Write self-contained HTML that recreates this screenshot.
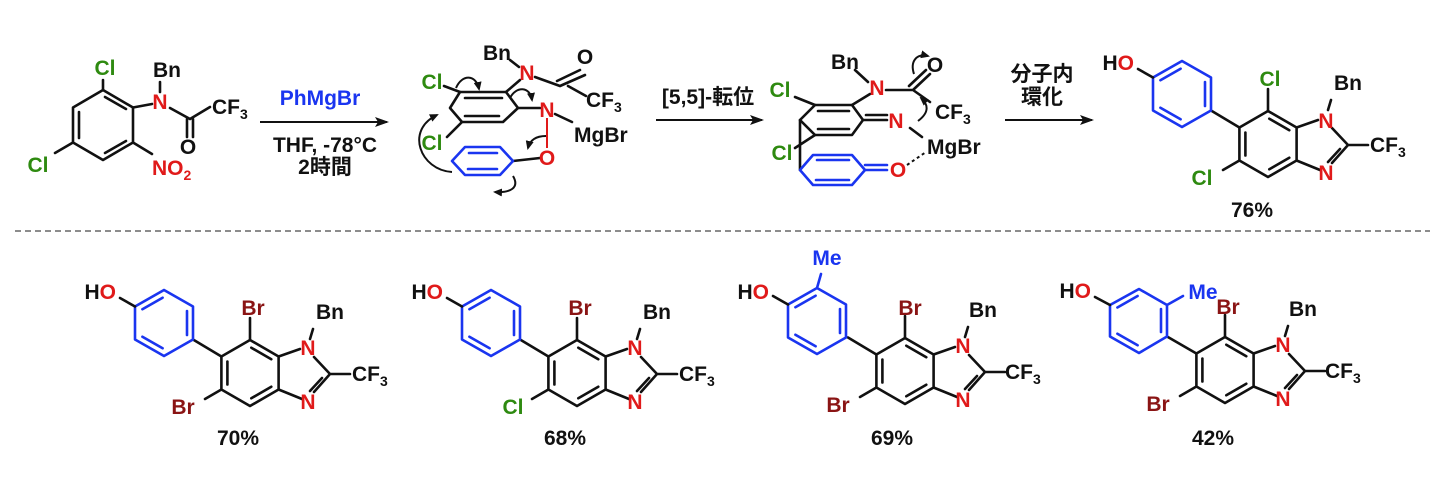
<!DOCTYPE html>
<html><head><meta charset="utf-8"><style>
html,body{margin:0;padding:0;background:#fff}
svg{display:block}
text{font-family:"Liberation Sans","Noto Sans CJK JP",sans-serif;font-weight:bold;font-size:21px}
.k{stroke:#111;stroke-width:2.6;fill:none;stroke-linecap:round;stroke-linejoin:round}
.b{stroke:#1a35f0;stroke-width:2.6;fill:none;stroke-linecap:round;stroke-linejoin:round}
.r{stroke:#e01a1a;stroke-width:2;fill:none}
.a{stroke:#111;stroke-width:2;fill:none}
.g{fill:#2e8a10}.rd{fill:#e01a1a}.dr{fill:#8a1414}.bl{fill:#1a35f0}.bk{fill:#111}
</style></head><body>
<svg width="1440" height="483" viewBox="0 0 1440 483" xmlns="http://www.w3.org/2000/svg">
<defs>
<marker id="ah" markerWidth="14" markerHeight="10" refX="12" refY="5" orient="auto" markerUnits="userSpaceOnUse"><path d="M0,0 L14,5 L0,10 L3,5 Z" fill="#111"/></marker>
<marker id="sh" markerWidth="9" markerHeight="8" refX="7" refY="4" orient="auto" markerUnits="userSpaceOnUse"><path d="M0,0 L9,4 L0,8 Z" fill="#111"/></marker>
</defs>

<!-- Molecule 1 -->
<path class="k" d="M103,90 L133,107.5 L133,142.5 L103,160 L73,142.5 L73,107.5 Z"/>
<path class="k" d="M105,97 L126,109 M79,112 L79,138 M105,153 L126,141"/>
<path class="k" d="M103,90 L103,80 M73,142.5 L55,153 M133,142.5 L152,154 M133,107.5 L152,104 M160,92 L160,82 M170,108 L190,119 M190,119 L210,107 M187,119 L187,137 M193,119 L193,137"/>
<text x="105" y="75" text-anchor="middle" class="g">Cl</text>
<text x="38" y="172" text-anchor="middle" class="g">Cl</text>
<text x="160" y="109" text-anchor="middle" class="rd">N</text>
<text x="167" y="77" text-anchor="middle" class="bk">Bn</text>
<text x="188" y="154" text-anchor="middle" class="bk">O</text>
<text x="212" y="114" class="bk">CF<tspan font-size="14" dy="5">3</tspan></text>
<text x="152" y="175" class="rd">NO<tspan font-size="14" dy="5">2</tspan></text>

<!-- Arrow 1 -->
<line class="a" x1="260" y1="122" x2="387" y2="122" marker-end="url(#ah)"/>
<text x="320" y="105" text-anchor="middle" class="bl">PhMgBr</text>
<text x="325" y="152" text-anchor="middle" class="bk">THF, -78°C</text>
<text x="325" y="174" text-anchor="middle" class="bk">2時間</text>

<!-- Intermediate 1 -->
<path class="k" d="M460,92 L506,92 L518,108 L503,122 L462,122 L450,108 Z"/>
<path class="k" d="M465,98 L502,98 M465,116 L499,116"/>
<path class="k" d="M444,86 L460,92 M506,92 L520,80 M518,108 L540,108 M535,77 L560,86 M560,86 L585,75 M557,81 L580,70 M568,86 L586,96 M510,60 L519,67 M555,114 L572,122 M447,137 L462,122"/>
<path class="r" d="M547,118 L547,148"/>
<path class="k" d="M513,161 L540,158"/>
<path class="b" d="M452,161 L465,147 L500,147 L513,161 L500,175 L465,175 Z M469,153 L497,153 M468,169 L497,169"/>
<text x="432" y="89" text-anchor="middle" class="g">Cl</text>
<text x="432" y="150" text-anchor="middle" class="g">Cl</text>
<text x="497" y="60" text-anchor="middle" class="bk">Bn</text>
<text x="527" y="80" text-anchor="middle" class="rd">N</text>
<text x="585" y="64" text-anchor="middle" class="bk">O</text>
<text x="586" y="107" class="bk">CF<tspan font-size="14" dy="5">3</tspan></text>
<text x="547" y="117" text-anchor="middle" class="rd">N</text>
<text x="574" y="142" class="bk">MgBr</text>
<text x="547" y="165" text-anchor="middle" class="rd">O</text>
<path class="a" d="M452,172 C420,170 405,130 437,115" marker-end="url(#sh)"/>
<path class="a" d="M456,88 C462,74 476,74 479,89" marker-end="url(#sh)"/>
<path class="a" d="M510,98 C516,86 530,86 532,100" marker-end="url(#sh)"/>
<path class="a" d="M546,136 C536,136 530,140 528,148" marker-end="url(#sh)"/>
<path class="a" d="M513,176 C520,188 510,193 495,192" marker-end="url(#sh)"/>

<!-- Arrow 2 -->
<line class="a" x1="656" y1="120" x2="762" y2="120" marker-end="url(#ah)"/>
<text x="708" y="104" text-anchor="middle" class="bk">[5,5]-転位</text>

<!-- Intermediate 2 -->
<path class="k" d="M815,105 L852,105 L863,120 L852,135 L815,135 L800,120 Z"/>
<path class="k" d="M818,111 L849,111 M818,129 L849,129"/>
<path class="k" d="M863,120 L887,120 M866,115 L887,115 M795,97 L815,105 M852,105 L870,94 M886,90 L913,90 M913,90 L930,74 M909,86 L926,70 M913,90 L930,102 M855,70 L868,82 M910,128 L922,137 M800,120 L800,170 M815,135 L795,148"/>
<path class="b" d="M800,170 L813,155 L852,155 L865,170 L852,185 L813,185 Z M817,160 L849,160 M816,180 L849,180"/>
<path class="b" d="M865,170 L887,170 M865,165 L887,165"/>
<path d="M907,165 L926,152" stroke="#111" stroke-width="2" stroke-dasharray="3,3"/>
<text x="780" y="97" text-anchor="middle" class="g">Cl</text>
<text x="782" y="160" text-anchor="middle" class="g">Cl</text>
<text x="845" y="69" text-anchor="middle" class="bk">Bn</text>
<text x="877" y="95" text-anchor="middle" class="rd">N</text>
<text x="935" y="72" text-anchor="middle" class="bk">O</text>
<text x="935" y="119" class="bk">CF<tspan font-size="14" dy="5">3</tspan></text>
<text x="896" y="128" text-anchor="middle" class="rd">N</text>
<text x="927" y="154" class="bk">MgBr</text>
<text x="898" y="177" text-anchor="middle" class="rd">O</text>
<path class="a" d="M918,121 C930,112 928,104 921,98" marker-end="url(#sh)"/>
<path class="a" d="M914,74 C910,62 916,53 928,56" marker-end="url(#sh)"/>

<!-- Arrow 3 -->
<line class="a" x1="1005" y1="120" x2="1092" y2="120" marker-end="url(#ah)"/>
<text x="1042" y="81" text-anchor="middle" class="bk">分子内</text>
<text x="1042" y="104" text-anchor="middle" class="bk">環化</text>

<!-- Dashed separator -->
<line x1="15" y1="231" x2="1430" y2="231" stroke="#666" stroke-width="1.4" stroke-dasharray="6,4"/>

<!-- Product top -->
<g transform="translate(1268,111)">
<path class="k" d="M0,0 L28.6,16.5 L28.6,49.5 L0,66 L-28.6,49.5 L-28.6,16.5 Z M1.3,7.7 L21.3,19.2 M-22.6,21.5 L-22.6,44.5 M1.3,58.3 L21.3,46.8"/>
<path class="k" d="M28.6,16.5 L50,9 M64,17 L80,34 M80,34 L64,52 M72,38 L60,51 M52,59 L28.6,49.5 M80,34 L100,34 M60,-1 L63,-11 M0,0 L0,-22 M-28.6,49.5 L-45,59 M-28.6,16.5 L-57,-0.5"/>
<path class="b" d="M-86,-50 L-57,-33.5 L-57,-0.5 L-86,16 L-115,-0.5 L-115,-33.5 Z M-63,-29 L-63,-5 M-107.6,-30.8 L-87.4,-42.3 M-107.6,-3.2 L-87.4,8.3"/>
<path class="k" d="M-115,-33.5 L-130,-42"/>
<text x="2" y="-25" text-anchor="middle" class="g">Cl</text>
<text x="-66" y="74" text-anchor="middle" class="g">Cl</text>
<text x="58" y="17" text-anchor="middle" class="rd">N</text>
<text x="58" y="69" text-anchor="middle" class="rd">N</text>
<text x="80" y="-21" text-anchor="middle" class="bk">Bn</text>
<text x="102" y="41" class="bk">CF<tspan font-size="14" dy="5">3</tspan></text>
<text x="-134" y="-41" text-anchor="end" class="bk">H<tspan class="rd">O</tspan></text>
<text x="-16" y="106" text-anchor="middle" class="bk">76%</text>
</g>

<!-- Bottom compounds -->
<g transform="translate(250,340)">
<path class="k" d="M0,0 L28.6,16.5 L28.6,49.5 L0,66 L-28.6,49.5 L-28.6,16.5 Z M1.3,7.7 L21.3,19.2 M-22.6,21.5 L-22.6,44.5 M1.3,58.3 L21.3,46.8"/>
<path class="k" d="M28.6,16.5 L50,9 M64,17 L80,34 M80,34 L64,52 M72,38 L60,51 M52,59 L28.6,49.5 M80,34 L100,34 M60,-1 L63,-11 M0,0 L0,-22 M-28.6,49.5 L-45,59 M-28.6,16.5 L-57,-0.5"/>
<path class="b" d="M-86,-50 L-57,-33.5 L-57,-0.5 L-86,16 L-115,-0.5 L-115,-33.5 Z M-63,-29 L-63,-5 M-107.6,-30.8 L-87.4,-42.3 M-107.6,-3.2 L-87.4,8.3"/>
<path class="k" d="M-115,-33.5 L-130,-42"/>
<text x="3" y="-25" text-anchor="middle" class="dr">Br</text>
<text x="-67" y="74" text-anchor="middle" class="dr">Br</text>
<text x="58" y="15" text-anchor="middle" class="rd">N</text>
<text x="58" y="69" text-anchor="middle" class="rd">N</text>
<text x="80" y="-21" text-anchor="middle" class="bk">Bn</text>
<text x="102" y="41" class="bk">CF<tspan font-size="14" dy="5">3</tspan></text>
<text x="-134" y="-41" text-anchor="end" class="bk">H<tspan class="rd">O</tspan></text>
<text x="-12" y="105" text-anchor="middle" class="bk">70%</text>
</g>

<g transform="translate(577,340)">
<path class="k" d="M0,0 L28.6,16.5 L28.6,49.5 L0,66 L-28.6,49.5 L-28.6,16.5 Z M1.3,7.7 L21.3,19.2 M-22.6,21.5 L-22.6,44.5 M1.3,58.3 L21.3,46.8"/>
<path class="k" d="M28.6,16.5 L50,9 M64,17 L80,34 M80,34 L64,52 M72,38 L60,51 M52,59 L28.6,49.5 M80,34 L100,34 M60,-1 L63,-11 M0,0 L0,-22 M-28.6,49.5 L-45,59 M-28.6,16.5 L-57,-0.5"/>
<path class="b" d="M-86,-50 L-57,-33.5 L-57,-0.5 L-86,16 L-115,-0.5 L-115,-33.5 Z M-63,-29 L-63,-5 M-107.6,-30.8 L-87.4,-42.3 M-107.6,-3.2 L-87.4,8.3"/>
<path class="k" d="M-115,-33.5 L-130,-42"/>
<text x="3" y="-25" text-anchor="middle" class="dr">Br</text>
<text x="-64" y="74" text-anchor="middle" class="g">Cl</text>
<text x="58" y="15" text-anchor="middle" class="rd">N</text>
<text x="58" y="69" text-anchor="middle" class="rd">N</text>
<text x="80" y="-21" text-anchor="middle" class="bk">Bn</text>
<text x="102" y="41" class="bk">CF<tspan font-size="14" dy="5">3</tspan></text>
<text x="-134" y="-41" text-anchor="end" class="bk">H<tspan class="rd">O</tspan></text>
<text x="-12" y="105" text-anchor="middle" class="bk">68%</text>
</g>

<g transform="translate(905,338)">
<path class="k" d="M0,0 L28.6,16.5 L28.6,49.5 L0,66 L-28.6,49.5 L-28.6,16.5 Z M1.3,7.7 L21.3,19.2 M-22.6,21.5 L-22.6,44.5 M1.3,58.3 L21.3,46.8"/>
<path class="k" d="M28.6,16.5 L50,9 M64,17 L80,34 M80,34 L64,52 M72,38 L60,51 M52,59 L28.6,49.5 M80,34 L100,34 M60,-1 L63,-11 M0,0 L0,-22 M-28.6,49.5 L-45,59 M-28.6,16.5 L-57,-0.5"/>
<path class="b" d="M-88,-50 L-59,-33.5 L-59,-0.5 L-88,16 L-117,-0.5 L-117,-33.5 Z M-65,-29 L-65,-5 M-109.6,-30.8 L-89.4,-42.3 M-109.6,-3.2 L-89.4,8.3 M-88,-50 L-84,-64"/>
<path class="k" d="M-117,-33.5 L-132,-42"/>
<text x="-78" y="-73" text-anchor="middle" class="bl">Me</text>
<text x="5" y="-23" text-anchor="middle" class="dr">Br</text>
<text x="-67" y="74" text-anchor="middle" class="dr">Br</text>
<text x="58" y="15" text-anchor="middle" class="rd">N</text>
<text x="58" y="69" text-anchor="middle" class="rd">N</text>
<text x="78" y="-21" text-anchor="middle" class="bk">Bn</text>
<text x="100" y="41" class="bk">CF<tspan font-size="14" dy="5">3</tspan></text>
<text x="-136" y="-39" text-anchor="end" class="bk">H<tspan class="rd">O</tspan></text>
<text x="-13" y="107" text-anchor="middle" class="bk">69%</text>
</g>

<g transform="translate(1225,337)">
<path class="k" d="M0,0 L28.6,16.5 L28.6,49.5 L0,66 L-28.6,49.5 L-28.6,16.5 Z M1.3,7.7 L21.3,19.2 M-22.6,21.5 L-22.6,44.5 M1.3,58.3 L21.3,46.8"/>
<path class="k" d="M28.6,16.5 L50,9 M64,17 L80,34 M80,34 L64,52 M72,38 L60,51 M52,59 L28.6,49.5 M80,34 L100,34 M60,-1 L63,-11 M0,0 L0,-22 M-28.6,49.5 L-45,59 M-28.6,16.5 L-58,-0.5"/>
<path class="b" d="M-86,-48 L-58,-32 L-58,-0.5 L-86,16 L-115,-0.5 L-115,-32 Z M-64,-28 L-64,-5 M-107.6,-29.5 L-87.4,-41 M-107.6,-3.2 L-87.4,8.3 M-58,-32 L-42,-41"/>
<path class="k" d="M-115,-32 L-130,-40"/>
<text x="-22" y="-38" text-anchor="middle" class="bl">Me</text>
<text x="3" y="-23" text-anchor="middle" class="dr">Br</text>
<text x="-67" y="74" text-anchor="middle" class="dr">Br</text>
<text x="58" y="15" text-anchor="middle" class="rd">N</text>
<text x="58" y="69" text-anchor="middle" class="rd">N</text>
<text x="78" y="-21" text-anchor="middle" class="bk">Bn</text>
<text x="100" y="41" class="bk">CF<tspan font-size="14" dy="5">3</tspan></text>
<text x="-134" y="-39" text-anchor="end" class="bk">H<tspan class="rd">O</tspan></text>
<text x="-12" y="108" text-anchor="middle" class="bk">42%</text>
</g>
</svg>
</body></html>
